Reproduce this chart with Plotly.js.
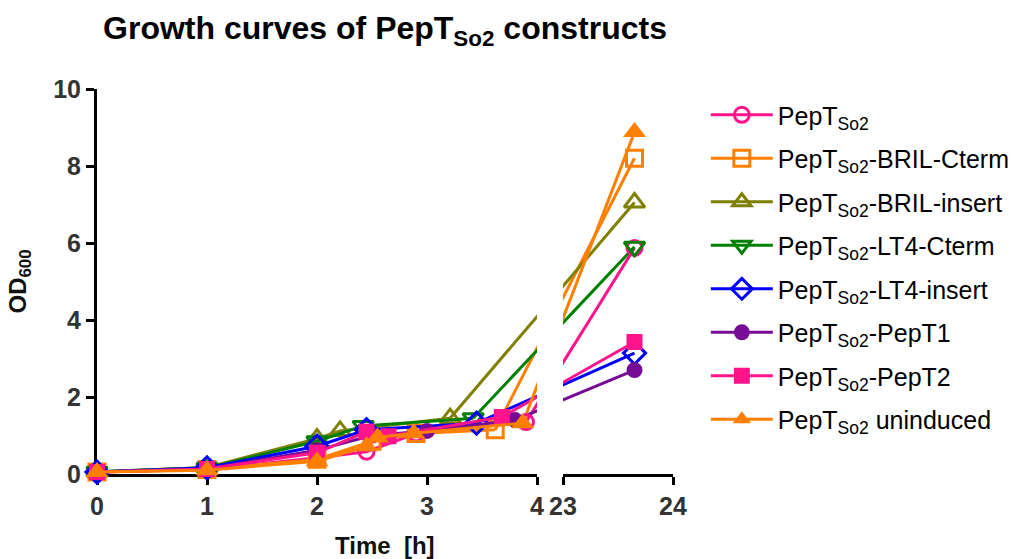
<!DOCTYPE html>
<html>
<head>
<meta charset="utf-8">
<script src="https://cdn.plot.ly/plotly-3.0.1.min.js"></script>
<style>html,body{margin:0;padding:0;background:#fff;}#chart{width:1032px;height:559px;}</style>
</head>
<body>
<div id="chart"></div>
<script>
// ---- data (time in hours, OD600) ----
const seriesNames = [
  'PepT<sub>So2</sub>',
  'PepT<sub>So2</sub>-BRIL-Cterm',
  'PepT<sub>So2</sub>-BRIL-insert',
  'PepT<sub>So2</sub>-LT4-Cterm',
  'PepT<sub>So2</sub>-LT4-insert',
  'PepT<sub>So2</sub>-PepT1',
  'PepT<sub>So2</sub>-PepT2',
  'PepT<sub>So2</sub> uninduced'
];
const tPepTSo2   = [0, 1, 2, 2.45, 2.9, 3.9, 23.65];
const odPepTSo2  = [0.05, 0.12, 0.42, 0.58, 1.05, 1.35, 5.87];
const tBrilCterm  = [0, 1, 2, 2.5, 2.9, 3.62, 23.65];
const odBrilCterm = [0.05, 0.12, 0.38, 0.85, 1.05, 1.15, 8.2];
const tBrilInsert  = [0, 1, 2, 2.21, 3.21, 23.65];
const odBrilInsert = [0.06, 0.17, 0.92, 1.12, 1.45, 7.05];
const tLt4Cterm  = [0, 1, 2, 2.42, 3.42, 23.65];
const odLt4Cterm = [0.06, 0.16, 0.85, 1.25, 1.45, 5.9];
const tLt4Insert  = [0, 1, 2, 2.45, 3.45, 23.65];
const odLt4Insert = [0.05, 0.16, 0.72, 1.15, 1.32, 3.14];
const tPepT1  = [0, 1, 2, 2.5, 3, 3.8, 23.65];
const odPepT1 = [0.05, 0.13, 0.62, 1.0, 1.12, 1.4, 2.7];
const tPepT2  = [0, 1, 2, 2.45, 2.65, 3.68, 23.65];
const odPepT2 = [0.05, 0.13, 0.55, 1.1, 0.98, 1.48, 3.43];
const tUninduced  = [0, 1, 2, 2.45, 2.55, 2.88, 3.87, 23.65];
const odUninduced = [0.05, 0.1, 0.33, 0.72, 0.95, 1.06, 1.32, 8.88];

const leftTicks = [0, 1, 2, 3, 4];
const rightTicks = [23, 24];
const yTicks = [0, 2, 4, 6, 8, 10];

// ---- styles ----
const FONT = 'Liberation Sans, Arial, sans-serif';
const colors = ['#FF148C', '#FF8000', '#808000', '#008000', '#0000FF', '#760C96', '#FF148C', '#FF8000'];
const symbols = ['circle-open', 'square-open', 'triangle-up-open', 'triangle-down-open', 'diamond-open', 'circle', 'square', 'triangle-up'];
const sizes = [15, 16, 18, 18, 17, 16, 16, 20];

const times = [tPepTSo2, tBrilCterm, tBrilInsert, tLt4Cterm, tLt4Insert, tPepT1, tPepT2, tUninduced];
const ods = [odPepTSo2, odBrilCterm, odBrilInsert, odLt4Cterm, odLt4Insert, odPepT1, odPepT2, odUninduced];

// axis break geometry
const plotW = 1032 - 97 - 359;
const d1 = 440 / plotW, d2 = 466 / plotW;
const GAP = (d2 - d1) * 4 / d1; // gap between segments expressed in hours at the same scale
const toLeft = t => (t <= 4 ? t : 4 + GAP + (t - 23));
const toRight = t => (t >= 23 ? t : 23 - GAP - (4 - t));

const traces = [];
const bridges = [];
seriesNames.forEach((name, i) => {
  const t = times[i], v = ods[i];
  const li = t.map((x, k) => k).filter(k => t[k] <= 4);
  const ri = t.map((x, k) => k).filter(k => t[k] >= 23);
  const marker = {
    symbol: symbols[i], size: sizes[i], color: colors[i],
    line: {color: colors[i], width: symbols[i].endsWith('open') ? 3 : 0}
  };
  const line = {color: colors[i], width: 3};
  traces.push({
    type: 'scatter', mode: 'lines+markers', name: name, legendgroup: 'g' + i,
    x: li.map(k => t[k]), y: li.map(k => v[k]), xaxis: 'x', yaxis: 'y',
    marker: marker, line: line, cliponaxis: false
  });
  traces.push({
    type: 'scatter', mode: 'lines+markers', name: name, legendgroup: 'g' + i, showlegend: false,
    x: ri.map(k => t[k]), y: ri.map(k => v[k]), xaxis: 'x2', yaxis: 'y',
    marker: marker, line: line, cliponaxis: false
  });
  const a = li[li.length - 1], b = ri[0];
  bridges.push({
    type: 'scatter', mode: 'lines', name: name, legendgroup: 'g' + i, showlegend: false, hoverinfo: 'skip',
    x: [t[a], toLeft(t[b])], y: [v[a], v[b]], xaxis: 'x', yaxis: 'y', line: line
  });
  bridges.push({
    type: 'scatter', mode: 'lines', name: name, legendgroup: 'g' + i, showlegend: false, hoverinfo: 'skip',
    x: [toRight(t[a]), t[b]], y: [v[a], v[b]], xaxis: 'x2', yaxis: 'y', line: line
  });
});

const tickFont = {family: FONT, size: 25, color: '#333333', weight: 'bold'};
const axisCommon = {
  showline: true, linewidth: 3, linecolor: '#000', ticks: 'outside', ticklen: 8, tickwidth: 3,
  tickcolor: '#000', tickfont: tickFont, showgrid: false, zeroline: false, layer: 'below traces',
  fixedrange: true
};

const layout = {
  width: 1032, height: 559,
  margin: {l: 97, r: 359, t: 89, b: 85, pad: 0},
  paper_bgcolor: '#fff', plot_bgcolor: '#fff',
  showlegend: true,
  title: {
    text: 'Growth curves of PepT<sub>So2</sub> constructs',
    font: {family: FONT, size: 32, color: '#000', weight: 'bold'},
    x: 0.5, xref: 'paper', xanchor: 'center', y: 0.95, yref: 'container', yanchor: 'middle'
  },
  xaxis: Object.assign({}, axisCommon, {
    domain: [0, d1], range: [0, 4], tickvals: leftTicks, ticktext: leftTicks.map(String), anchor: 'y'
  }),
  xaxis2: Object.assign({}, axisCommon, {
    domain: [d2, 1], range: [23, 24], tickvals: rightTicks, ticktext: rightTicks.map(String), anchor: 'y'
  }),
  yaxis: Object.assign({}, axisCommon, {
    range: [0, 10], tickvals: yTicks, ticktext: yTicks.map(String), anchor: 'x',
    title: {text: 'OD<sub>600</sub>', font: {family: FONT, size: 24, color: '#111', weight: 'bold'}, standoff: 20}
  }),
  annotations: [{
    text: 'Time  [h]', xref: 'paper', yref: 'paper', x: 0.5, y: -(545 - 474) / 385,
    xanchor: 'center', yanchor: 'middle', showarrow: false,
    font: {family: FONT, size: 24, color: '#111', weight: 'bold'}
  }],
  legend: {
    x: 1.057, y: 0.992, xanchor: 'left', yanchor: 'top',
    font: {family: FONT, size: 25, color: '#000'},
    tracegroupgap: 8, itemwidth: 62, bgcolor: 'rgba(0,0,0,0)'
  }
};

Plotly.newPlot('chart', bridges.concat(traces), layout, {displayModeBar: false, staticPlot: true});
</script>
</body>
</html>
